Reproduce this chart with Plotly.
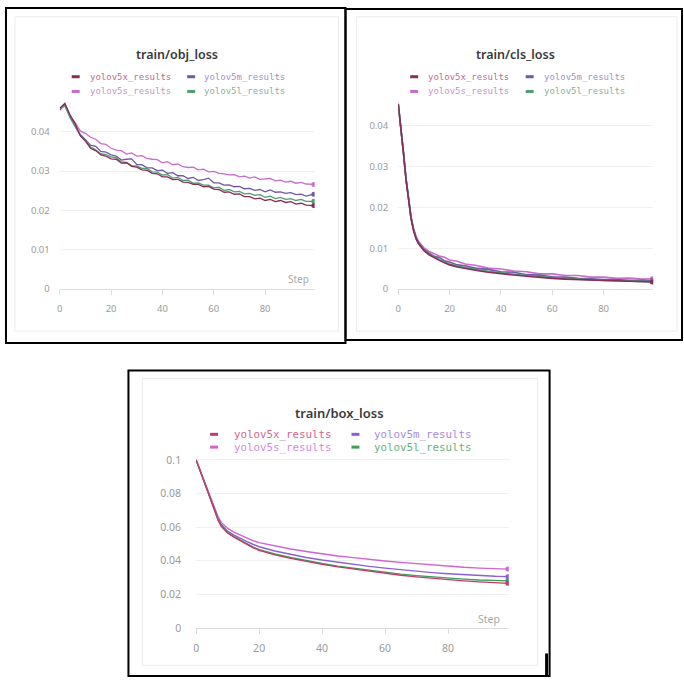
import plotly.graph_objects as go

# ---------------- data ----------------
SERIES = ["yolov5x_results", "yolov5m_results", "yolov5s_results", "yolov5l_results"]

OBJ_STEPS = [0, 2, 4, 6, 8, 10, 12, 14, 16, 18, 20, 22, 24, 26, 28, 30, 32, 34, 36, 38,
             40, 42, 44, 46, 48, 50, 52, 54, 56, 58, 60, 62, 64, 66, 68, 70, 72, 74, 76, 78,
             80, 82, 84, 86, 88, 90, 92, 94, 96, 99]
OBJ_X = [.0460, .0472, .0443, .0420, .0390, .0376, .0358, .0352, .0341, .0338, .0331, .0330, .0320, .0321, .0312,
         .0310, .0303, .0302, .0294, .0293, .0285, .0285, .0278, .0279, .0272, .0271, .0266, .0266, .0260, .0261,
         .0254, .0253, .0246, .0247, .0241, .0242, .0235, .0235, .0229, .0231, .0225, .0228, .0222, .0225, .0220,
         .0222, .0216, .0218, .0213, .0212]
OBJ_M = [.0455, .0470, .0438, .0417, .0393, .0380, .0366, .0363, .0350, .0348, .0341, .0338, .0328, .0330, .0331,
         .0317, .0316, .0308, .0308, .0301, .0302, .0294, .0296, .0288, .0288, .0281, .0284, .0276, .0278, .0282,
         .0270, .0270, .0264, .0265, .0260, .0261, .0255, .0256, .0251, .0253, .0247, .0252, .0246, .0247, .0243,
         .0245, .0240, .0241, .0236, .0241]
OBJ_S = [.0455, .0468, .0440, .0423, .0402, .0396, .0386, .0381, .0370, .0368, .0358, .0353, .0352, .0343, .0346,
         .0338, .0339, .0332, .0330, .0329, .0321, .0324, .0316, .0318, .0311, .0309, .0310, .0303, .0305, .0298,
         .0299, .0294, .0293, .0290, .0291, .0285, .0287, .0282, .0285, .0279, .0280, .0281, .0275, .0277, .0272,
         .0274, .0269, .0271, .0267, .0266]
OBJ_L = [.0458, .0466, .0436, .0414, .0390, .0377, .0361, .0354, .0344, .0342, .0336, .0334, .0323, .0322, .0314,
         .0313, .0307, .0307, .0298, .0297, .0290, .0291, .0282, .0284, .0276, .0277, .0269, .0270, .0264, .0264,
         .0257, .0259, .0251, .0253, .0247, .0248, .0242, .0243, .0238, .0240, .0233, .0236, .0230, .0233, .0228,
         .0230, .0225, .0228, .0223, .0223]

CLS_STEPS = [0, 1, 2, 3, 4, 5, 6, 7, 8, 9, 10, 12, 14, 16, 18, 20, 23, 26, 30, 35, 40, 45, 50, 55, 60,
             65, 70, 75, 80, 85, 90, 95, 99]
CLS_X = [.0455, .0400, .0335, .0270, .0215, .0172, .0142, .0122, .0110, .0101, .0094, .0084, .0076, .0070, .0064,
         .0059, .0054, .0050, .0046, .0041, .0037, .0034, .0031, .0028, .0026, .0024, .0023, .0021, .0020, .0019,
         .0018, .0018, .0017]
CLS_M = [.0453, .0401, .0336, .0271, .0217, .0174, .0145, .0125, .0113, .0104, .0097, .0088, .0080, .0077, .0069,
         .0066, .0059, .0057, .0051, .0048, .0042, .0041, .0035, .0034, .0030, .0029, .0026, .0025, .0023, .0023,
         .0021, .0021, .0020]
CLS_S = [.0452, .0402, .0338, .0273, .0219, .0177, .0148, .0128, .0116, .0108, .0101, .0092, .0087, .0081, .0078,
         .0071, .0068, .0061, .0058, .0051, .0049, .0044, .0042, .0037, .0037, .0033, .0033, .0029, .0029, .0026,
         .0027, .0024, .0025]
CLS_L = [.0454, .0400, .0335, .0270, .0216, .0173, .0143, .0123, .0111, .0102, .0095, .0086, .0078, .0072, .0066,
         .0061, .0056, .0052, .0048, .0043, .0039, .0036, .0033, .0030, .0028, .0026, .0024, .0023, .0021, .0020,
         .0019, .0019, .0018]

BOX_STEPS = [0, 1, 2, 3, 4, 5, 6, 7, 8, 9, 10, 12, 14, 16, 18, 20, 25, 30, 35, 40, 45, 50, 55, 60, 65,
             70, 75, 80, 85, 90, 95, 99]
BOX_X = [.1000, .0950, .0900, .0852, .0800, .0745, .0690, .0640, .0605, .0583, .0565, .0540, .0518, .0500, .0478,
         .0462, .0435, .0414, .0394, .0378, .0363, .0350, .0337, .0324, .0313, .0304, .0295, .0288, .0280, .0274,
         .0269, .0265]
BOX_M = [.1000, .0951, .0901, .0855, .0803, .0750, .0696, .0650, .0615, .0593, .0576, .0552, .0532, .0515, .0498,
         .0483, .0458, .0437, .0419, .0404, .0390, .0378, .0366, .0356, .0346, .0337, .0329, .0322, .0316, .0311,
         .0307, .0305]
BOX_S = [.1000, .0952, .0903, .0858, .0808, .0755, .0703, .0660, .0628, .0607, .0592, .0570, .0552, .0537, .0520,
         .0508, .0487, .0470, .0455, .0440, .0428, .0418, .0407, .0398, .0390, .0382, .0374, .0367, .0361, .0356,
         .0352, .0350]
BOX_L = [.1000, .0950, .0900, .0853, .0801, .0747, .0692, .0643, .0608, .0586, .0568, .0543, .0521, .0503, .0482,
         .0466, .0440, .0419, .0399, .0383, .0368, .0355, .0342, .0330, .0320, .0311, .0303, .0296, .0290, .0285,
         .0281, .0280]

X_TICKS = [0, 20, 40, 60, 80]
OBJ_YTICKS = [0, 0.01, 0.02, 0.03, 0.04]
OBJ_YLABELS = ["0", "0.01", "0.02", "0.03", "0.04"]
CLS_YTICKS = [0, 0.01, 0.02, 0.03, 0.04]
CLS_YLABELS = ["0", "0.01", "0.02", "0.03", "0.04"]
BOX_YTICKS = [0, 0.02, 0.04, 0.06, 0.08, 0.1]
BOX_YLABELS = ["0", "0.02", "0.04", "0.06", "0.08", "0.1"]

TITLES = ["train/obj_loss", "train/cls_loss", "train/box_loss"]

# ---------------- styling ----------------
W = H = 684
def PX(x): return x / W
def PY(y): return 1 - y / H

TOP_LINE = {"yolov5x_results": "#8a2c58", "yolov5m_results": "#6e58a8",
            "yolov5s_results": "#c86ccc", "yolov5l_results": "#4f9e6e"}
TOP_TEXT = {"yolov5x_results": "#b8708f", "yolov5m_results": "#9c92cc",
            "yolov5s_results": "#cc90cc", "yolov5l_results": "#82b596"}
BOT_LINE = {"yolov5x_results": "#c23b6b", "yolov5m_results": "#8c5fd6",
            "yolov5s_results": "#cf62d4", "yolov5l_results": "#3e9e5c"}
BOT_TEXT = {"yolov5x_results": "#d0668e", "yolov5m_results": "#a98ae0",
            "yolov5s_results": "#d78ade", "yolov5l_results": "#66b27c"}

fig = go.Figure()

panels = [
    dict(ax="", steps=OBJ_STEPS, data=[OBJ_X, OBJ_M, OBJ_S, OBJ_L], colors=TOP_LINE, width=1.3),
    dict(ax="2", steps=CLS_STEPS, data=[CLS_X, CLS_M, CLS_S, CLS_L], colors=TOP_LINE, width=1.6),
    dict(ax="3", steps=BOX_STEPS, data=[BOX_X, BOX_M, BOX_S, BOX_L], colors=BOT_LINE, width=1.4),
]
draw_order = [2, 1, 3, 0]  # s, m, l, x (x on top)
for p in panels:
    for i in draw_order:
        name = SERIES[i]
        vals = p["data"][i]
        fig.add_trace(go.Scatter(
            x=p["steps"], y=vals, mode="lines", name=name, showlegend=False,
            line=dict(color=p["colors"][name], width=p["width"]),
            xaxis="x" + p["ax"], yaxis="y" + p["ax"], hoverinfo="skip"))
        fig.add_trace(go.Scatter(
            x=[p["steps"][-1]], y=[vals[-1]], mode="markers", showlegend=False,
            marker=dict(color=p["colors"][name], size=5),
            xaxis="x" + p["ax"], yaxis="y" + p["ax"], hoverinfo="skip"))

tick_font_top = dict(family="Noto Sans", size=9.5, color="#9a9a9a")
tick_font_bot = dict(family="Noto Sans", size=10.5, color="#9a9a9a")

def xaxis(dom, anchor, rng, font):
    return dict(domain=dom, anchor=anchor, range=rng, tickvals=X_TICKS, showgrid=False,
                zeroline=False, showline=True, linecolor="#dcdcdc", linewidth=1,
                ticks="outside", ticklen=5, tickcolor="#dcdcdc", tickfont=font,
                ticklabelstandoff=6, fixedrange=True)

def yaxis(dom, anchor, rng, vals, labels, font, standoff):
    return dict(domain=dom, anchor=anchor, range=rng, tickvals=vals, ticktext=labels,
                showgrid=True, gridcolor="#f1f1f1", gridwidth=1, zeroline=False,
                showline=False, ticks="", tickfont=font, ticklabelstandoff=standoff,
                fixedrange=True)

fig.update_layout(
    xaxis=xaxis([PX(57), PX(313)], "y", [0, 99.3], tick_font_top),
    yaxis=yaxis([PY(289), PY(97)], "x", [0, 0.048], OBJ_YTICKS, OBJ_YLABELS, tick_font_top, 9),
    xaxis2=xaxis([PX(397), PX(653)], "y2", [0, 99.3], tick_font_top),
    yaxis2=yaxis([PY(289), PY(97)], "x2", [0, 0.0463], CLS_YTICKS, CLS_YLABELS, tick_font_top, 9),
    xaxis3=xaxis([PX(194), PX(508)], "y3", [0, 99.3], tick_font_bot),
    yaxis3=yaxis([PY(634), PY(461)], "x3", [0, 0.1012], BOX_YTICKS, BOX_YLABELS, tick_font_bot, 14),
)

shapes = []
annotations = []

# outer black frames
for (x0, y0, x1, y1) in [(3, 3, 344, 344), (344, 4, 682, 341), (126, 372, 549, 683)]:
    shapes.append(dict(type="rect", xref="paper", yref="paper", x0=PX(x0), y0=PY(y0), x1=PX(x1), y1=PY(y1),
                       line=dict(color="black", width=2), layer="above"))
shapes.append(dict(type="line", xref="paper", yref="paper", x0=PX(546), x1=PX(546), y0=PY(660), y1=PY(683),
                   line=dict(color="black", width=3)))
# light card borders
for (x0, y0, x1, y1) in [(12, 12, 337, 332), (355, 12, 677, 332), (140, 380, 537, 672)]:
    shapes.append(dict(type="rect", xref="paper", yref="paper", x0=PX(x0), y0=PY(y0), x1=PX(x1), y1=PY(y1),
                       line=dict(color="#ececec", width=1), layer="below"))

# titles
for t, (cx, cy, sz) in zip(TITLES, [(175, 50, 12.5), (515, 50, 12.5), (338, 415, 13)]):
    annotations.append(dict(text=t, xref="paper", yref="paper", x=PX(cx), y=PY(cy), showarrow=False,
                            xanchor="center", yanchor="middle",
                            font=dict(family="Noto Sans", size=sz, color="#3a3a3a", weight=600)))

# legends (2 x 2 grid: x, m / s, l)
legend_specs = [
    dict(col1=(73, 85), col2=(189, 200), rows=(73, 88), size=9, line=TOP_LINE, text=TOP_TEXT),
    dict(col1=(413, 425), col2=(529, 541), rows=(73, 88), size=9, line=TOP_LINE, text=TOP_TEXT),
    dict(col1=(212, 230), col2=(354, 371), rows=(437, 450), size=10.8, line=BOT_LINE, text=BOT_TEXT),
]
grid = [(0, 0, 0), (1, 0, 1), (2, 1, 0), (3, 1, 1)]  # series index, row, col
for spec in legend_specs:
    for si, r, c in grid:
        name = SERIES[si]
        dash_x, text_x = spec["col1"] if c == 0 else spec["col2"]
        y = spec["rows"][r]
        shapes.append(dict(type="line", xref="paper", yref="paper",
                           x0=PX(dash_x - 4), x1=PX(dash_x + 4), y0=PY(y), y1=PY(y),
                           line=dict(color=spec["line"][name], width=3)))
        annotations.append(dict(text=name, xref="paper", yref="paper", x=PX(text_x), y=PY(y),
                                showarrow=False, xanchor="left", yanchor="middle",
                                font=dict(family="DejaVu Sans Mono", size=spec["size"],
                                          color=spec["text"][name])))

# "Step" labels
annotations.append(dict(text="Step", xref="paper", yref="paper", x=PX(297), y=PY(279), showarrow=False,
                        xanchor="center", yanchor="middle",
                        font=dict(family="Noto Sans", size=10, color="#a8a8a8")))
annotations.append(dict(text="Step", xref="paper", yref="paper", x=PX(488), y=PY(625), showarrow=False,
                        xanchor="center", yanchor="middle",
                        font=dict(family="Noto Sans", size=10.5, color="#a8a8a8")))

fig.update_layout(
    width=W, height=H, margin=dict(l=0, r=0, t=0, b=0),
    paper_bgcolor="white", plot_bgcolor="white",
    shapes=shapes, annotations=annotations, showlegend=False,
)

fig.write_html("out.html")
